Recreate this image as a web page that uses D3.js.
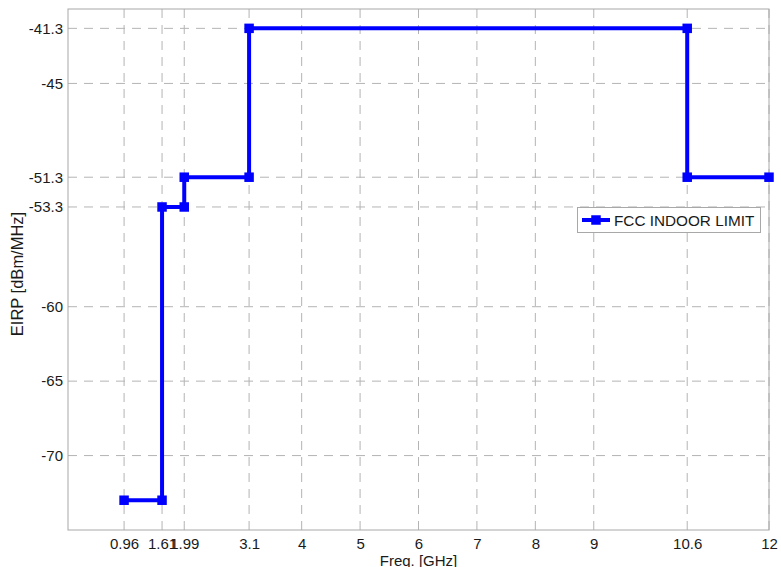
<!DOCTYPE html>
<html>
<head>
<meta charset="utf-8">
<script src="https://cdn.jsdelivr.net/npm/d3@7"></script>
<style>
html,body{margin:0;padding:0;background:#fff;}
svg{display:block;font-family:"Liberation Sans",Arial,sans-serif;}
</style>
</head>
<body>
<svg id="chart" width="781" height="567"></svg>
<script>
const freqs = [0.96, 1.61, 1.61, 1.99, 1.99, 3.1, 3.1, 10.6, 10.6, 12];
const eirp  = [-73, -73, -53.3, -53.3, -51.3, -51.3, -41.3, -41.3, -51.3, -51.3];
const xTicks = [0.96, 1.61, 1.99, 3.1, 4, 5, 6, 7, 8, 9, 10.6, 12];
const yTicks = [-41.3, -45, -51.3, -53.3, -60, -65, -70];
const seriesName = "FCC INDOOR LIMIT";
const xLabel = "Freq. [GHz]";
const yLabel = "EIRP [dBm/MHz]";

const svg = d3.select("#chart");
const L = 68, R = 769, T = 9, B = 530;
const x = d3.scaleLinear().domain([0, 12]).range([L, R]);
const y = d3.scaleLinear().domain([-75, -40]).range([B, T]);

const gridColor = "#b4b4b4";
// grid
svg.append("g").selectAll("line").data(xTicks).join("line")
  .attr("x1", d => x(d)).attr("x2", d => x(d)).attr("y1", T).attr("y2", B)
  .attr("stroke", gridColor).attr("stroke-width", 1).attr("stroke-dasharray", "9,7");
svg.append("g").selectAll("line").data(yTicks).join("line")
  .attr("y1", d => y(d)).attr("y2", d => y(d)).attr("x1", L).attr("x2", R)
  .attr("stroke", gridColor).attr("stroke-width", 1).attr("stroke-dasharray", "9,7");

// frame
svg.append("rect").attr("x", L).attr("y", T).attr("width", R - L).attr("height", B - T)
  .attr("fill", "none").attr("stroke", "#a8a8a8").attr("stroke-width", 1);

// axes
const xAxis = d3.axisBottom(x).tickValues(xTicks).tickFormat(d => String(d)).tickSize(0).tickPadding(8);
const gx = svg.append("g").attr("transform", `translate(0,${B})`).call(xAxis);
gx.select(".domain").remove();
gx.selectAll("text").attr("font-size", 15).attr("fill", "#1a1a1a").attr("font-family", "Liberation Sans, Arial, sans-serif");

const yAxis = d3.axisLeft(y).tickValues(yTicks).tickFormat(d => String(d)).tickSize(0).tickPadding(5);
const gy = svg.append("g").attr("transform", `translate(${L},0)`).call(yAxis);
gy.select(".domain").remove();
gy.selectAll("text").attr("font-size", 15).attr("fill", "#1a1a1a").attr("font-family", "Liberation Sans, Arial, sans-serif");

// labels
svg.append("text").attr("x", (L + R) / 2).attr("y", 565.5).attr("text-anchor", "middle")
  .attr("font-size", 15).attr("fill", "#1a1a1a").text(xLabel);
svg.append("text").attr("transform", `translate(23,274) rotate(-90)`)
  .attr("text-anchor", "middle").attr("font-size", 16.5).attr("fill", "#1a1a1a").text(yLabel);

// data
const pts = freqs.map((f, i) => [f, eirp[i]]);
const blue = "#0000ff";
svg.append("path").datum(pts)
  .attr("d", d3.line().x(d => x(d[0])).y(d => y(d[1])))
  .attr("fill", "none").attr("stroke", blue).attr("stroke-width", 4).attr("stroke-linejoin", "miter");
const ms = 9.5;
svg.append("g").selectAll("rect").data(pts).join("rect")
  .attr("x", d => x(d[0]) - ms / 2).attr("y", d => y(d[1]) - ms / 2)
  .attr("width", ms).attr("height", ms).attr("fill", blue);

// legend
const lg = svg.append("g");
lg.append("rect").attr("x", 577.5).attr("y", 207.5).attr("width", 183).attr("height", 25)
  .attr("fill", "#fff").attr("stroke", "#a8a8a8").attr("stroke-width", 1);
lg.append("line").attr("x1", 582).attr("x2", 610).attr("y1", 220).attr("y2", 220)
  .attr("stroke", blue).attr("stroke-width", 4);
lg.append("rect").attr("x", 596 - ms / 2).attr("y", 220 - ms / 2).attr("width", ms).attr("height", ms).attr("fill", blue);
lg.append("text").attr("x", 614).attr("y", 225.5).attr("font-size", 15.3).attr("fill", "#1a1a1a").text(seriesName);
</script>
</body>
</html>
